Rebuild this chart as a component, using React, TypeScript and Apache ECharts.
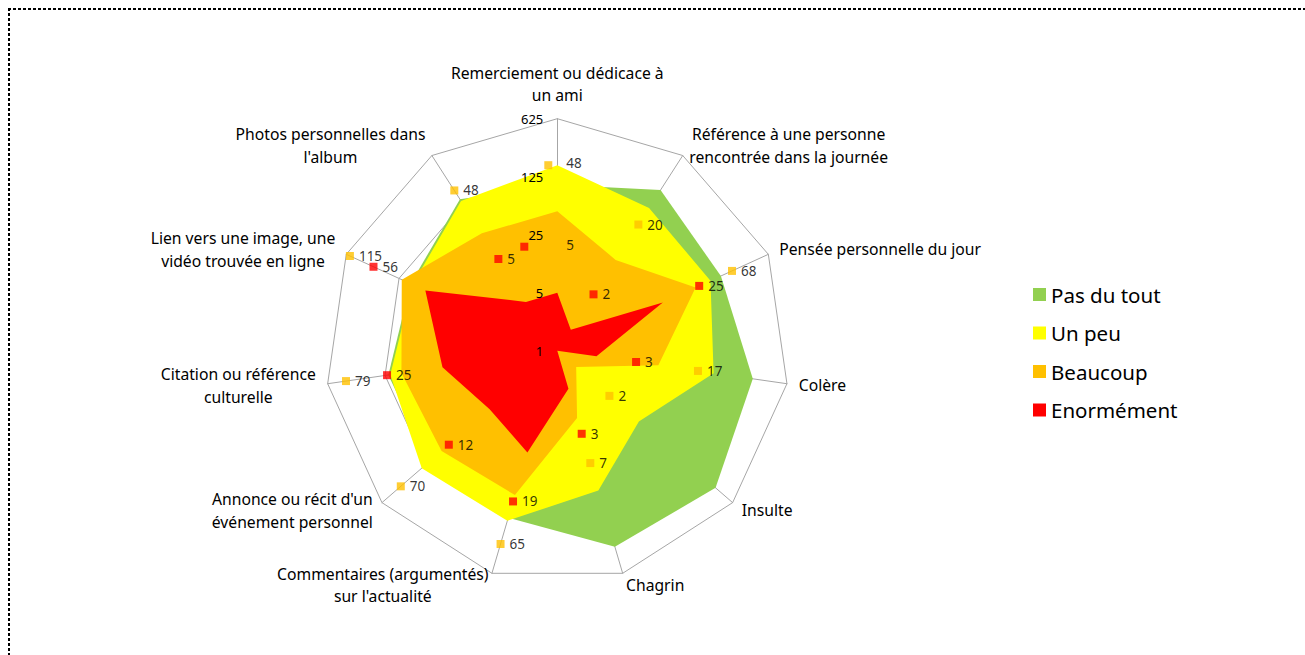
import React, { useEffect, useRef } from "react";
import * as echarts from "echarts";

// ---- data (clockwise from the top axis) ----
const categories = [
  "Remerciement ou dédicace à\nun ami",
  "Référence à une personne\nrencontrée dans la journée",
  "Pensée personnelle du jour",
  "Colère",
  "Insulte",
  "Chagrin",
  "Commentaires (argumentés)\nsur l'actualité",
  "Annonce ou récit d'un\névénement personnel",
  "Citation ou référence\nculturelle",
  "Lien vers une image, une\nvidéo trouvée en ligne",
  "Photos personnelles dans\nl'album",
];
const seriesNames = ["Pas du tout", "Un peu", "Beaucoup", "Enormément"];
const pasDuTout = [100, 200, 147, 240, 334, 290, 125, 110, 114, 88, 148];
const unPeu = [172, 111, 107, 80, 20, 57, 137, 145, 108, 83, 140];
const beaucoup = [48, 20, 68, 17, 2, 7, 65, 70, 79, 115, 48];
const enormement = [5, 2, 25, 3, 0, 3, 19, 12, 25, 56, 5];
const scaleTicks = [1, 5, 25, 125, 625];

// ---- layout / style ----
const colors = ["#92D050", "#FFFF00", "#FFC000", "#FF0000"];
const keyGapPx = [50, 42, 40, 40, 44, 47, 51, 54, 56, 57, 51]; // data-label key distance outside its point
// hand-moved label keys in the original: [series offset (2|3), axis index, dx, dy]
const keyNudges: [number, number, number, number][] = [
  [2, 0, -9, 4],
  [3, 0, -33, 4],
];
const FONT = "Noto Sans";
const CENTER = [557.3, 350.7];
const RADIUS = 232;

const BASE = 5;
const LOG_MAX = Math.log(scaleTicks[scaleTicks.length - 1]) / Math.log(BASE);
const PX_PER_LOG = RADIUS / LOG_MAX;
const toLog = (v: number) => (v > 0 ? Math.log(v) / Math.log(BASE) : 0);
const n = categories.length;
// radar lays indicators counter-clockwise: reorder so they appear clockwise
const order = categories.map((_, k) => (n - k) % n);

export default function App() {
  const ref = useRef<HTMLDivElement>(null);
  useEffect(() => {
    if (!ref.current) return;
    const chart = echarts.init(ref.current, undefined, { renderer: "svg" });
    const all = [pasDuTout, unPeu, beaucoup, enormement];

    const radarSeries = all.map((arr, s) => ({
      type: "radar",
      radarIndex: 0,
      name: seriesNames[s],
      symbol: "none",
      z: 2 + s,
      lineStyle: { width: 0, color: colors[s] },
      itemStyle: { color: colors[s] },
      areaStyle: { color: colors[s], opacity: 1 },
      data: [{ name: seriesNames[s], value: order.map((i) => toLog(arr[i])) }],
    }));

    const keySeries = [2, 3].map((s) => ({
      type: "scatter",
      name: seriesNames[s] + " (étiquettes)",
      coordinateSystem: "polar",
      symbol: "rect",
      symbolSize: 8,
      z: 10,
      silent: true,
      itemStyle: { color: colors[s] },
      label: {
        show: true,
        position: "right",
        distance: 5,
        formatter: "{b}",
        color: "#000",
        fontSize: 13.5,
        fontFamily: FONT,
      },
      data: all[s]
        .map((v, i) => {
          if (!(v > 0)) return null;
          const item: any = { name: String(v), value: [toLog(v) + keyGapPx[i] / PX_PER_LOG, i] };
          const nudge = keyNudges.find((k) => k[0] === s && k[1] === i);
          if (nudge) {
            item.symbolOffset = [nudge[2], nudge[3]];
            item.label = { offset: [-nudge[2], -nudge[3] + 2] };
          }
          return item;
        })
        .filter((d) => d !== null),
    }));

    const baseIndicators = (withLabel: boolean) =>
      order.map((i, k) => ({
        name: categories[i],
        min: 0,
        max: LOG_MAX,
        ...(withLabel && k === 0 ? { axisLabel: { show: true } } : {}),
      }));

    chart.setOption({
      animation: false,
      backgroundColor: "#fff",
      legend: {
        data: seriesNames,
        orient: "vertical",
        left: 1028,
        top: 279,
        itemWidth: 13,
        itemHeight: 13,
        itemGap: 17.5,
        icon: "rect",
        selectedMode: false,
        textStyle: { fontSize: 20.5, fontFamily: FONT, color: "#000" },
      },
      radar: [
        {
          center: CENTER,
          radius: RADIUS,
          startAngle: 90,
          shape: "polygon",
          splitNumber: scaleTicks.length - 1,
          nameGap: 12,
          indicator: baseIndicators(false),
          axisName: {
            color: "#000",
            fontSize: 15.7,
            fontFamily: FONT,
            formatter: (name: string) =>
              name
                .split("\n")
                .map((l) => `{c|${l}}`)
                .join("\n"),
            rich: {
              c: { align: "center", fontSize: 15.7, fontFamily: FONT, color: "#000", lineHeight: 22.5 },
            },
          },
          axisLine: { show: true, lineStyle: { color: "#a6a6a6", width: 1 } },
          splitLine: { show: true, lineStyle: { color: "#a6a6a6", width: 1 } },
          splitArea: { show: false },
          axisTick: { show: false },
          axisLabel: { show: false },
        },
        {
          // same geometry, drawn above the areas: carries only the scale labels
          z: 20,
          center: CENTER,
          radius: RADIUS,
          startAngle: 90,
          shape: "polygon",
          splitNumber: scaleTicks.length - 1,
          indicator: baseIndicators(true),
          axisName: { show: false },
          axisLine: { show: false },
          splitLine: { show: false },
          splitArea: { show: false },
          axisTick: { show: false },
          axisLabel: {
            show: false,
            color: "#000",
            fontSize: 13,
            fontFamily: FONT,
            margin: 14,
            formatter: (v: number) => String(Math.round(Math.pow(BASE, v))),
          },
        },
      ],
      polar: { center: CENTER, radius: RADIUS },
      angleAxis: {
        type: "value",
        min: 0,
        max: n,
        startAngle: 90,
        clockwise: true,
        show: false,
        splitLine: { show: false },
      },
      radiusAxis: {
        type: "value",
        min: 0,
        max: LOG_MAX,
        show: false,
        splitLine: { show: false },
      },
      series: [...radarSeries, ...keySeries],
    });
    return () => chart.dispose();
  }, []);

  const dots = "repeating-linear-gradient(to bottom, #000 0 3px, transparent 3px 5px)";
  const dotsH = "repeating-linear-gradient(to right, #000 0 3px, transparent 3px 5px)";
  return (
    <div style={{ position: "fixed", left: 0, top: 0, width: 1305, height: 655, background: "#fff" }}>
      <div ref={ref} style={{ position: "absolute", left: 0, top: 0, width: 1305, height: 655 }} />
      <div style={{ position: "absolute", left: 8, top: 8, width: 2, height: 647, background: dots }} />
      <div style={{ position: "absolute", left: 8, top: 8, width: 1297, height: 2, background: dotsH }} />
    </div>
  );
}
